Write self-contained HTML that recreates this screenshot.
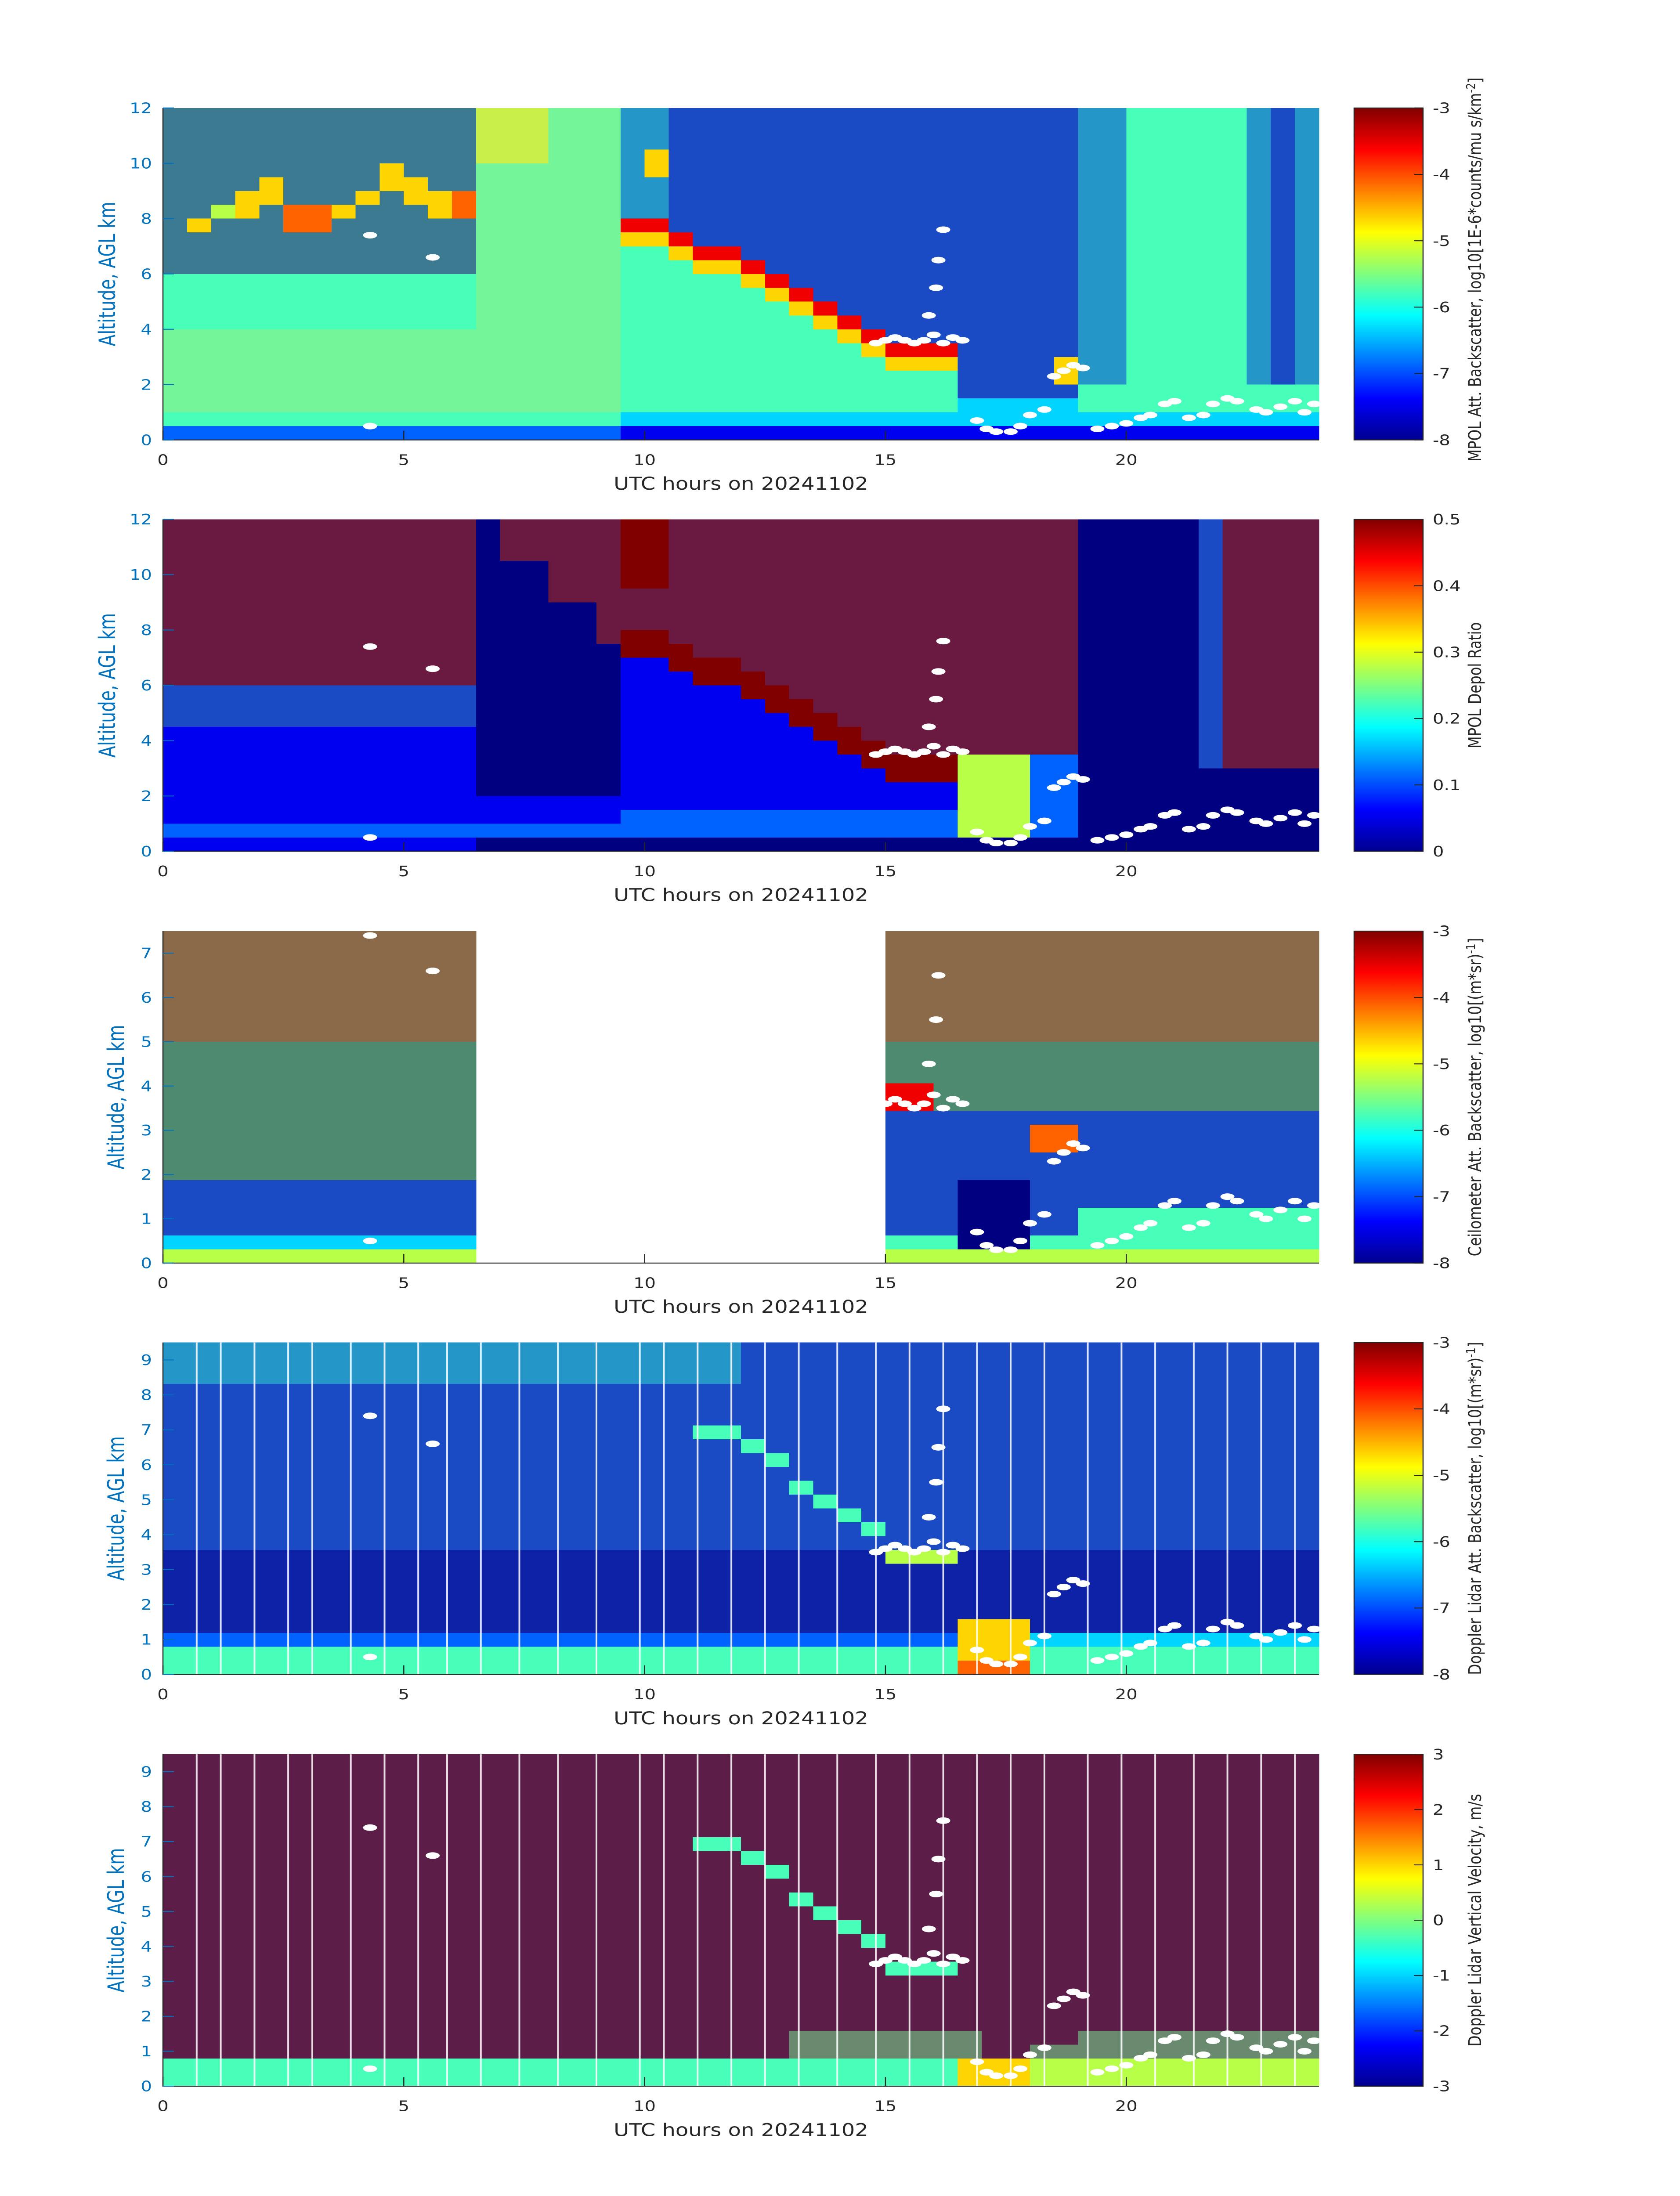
<!DOCTYPE html>
<html><head><meta charset="utf-8"><title>Lidar time-height panels 20241102</title>
<style>
html,body{margin:0;padding:0;background:#fff;width:100%;height:100%;overflow:hidden;}
svg{display:block;width:100vw;height:100vh;}
text{font-family:"DejaVu Sans","Liberation Sans",sans-serif;}
</style></head>
<body>
<svg id="fig" xmlns="http://www.w3.org/2000/svg" viewBox="0 0 3825 6000" preserveAspectRatio="none">
<defs>
<linearGradient id="jetGrad" x1="0" y1="1" x2="0" y2="0">
<stop offset="0" stop-color="#00008f"/><stop offset="0.125" stop-color="#0000ff"/>
<stop offset="0.375" stop-color="#00ffff"/><stop offset="0.625" stop-color="#ffff00"/>
<stop offset="0.875" stop-color="#ff0000"/><stop offset="1" stop-color="#800000"/>
</linearGradient>
</defs>
<rect width="3825" height="6000" fill="#fff"/>
<g id="plots"></g>
</svg>
<script>
// ---- data ----
const xTicks = [0, 5, 10, 15, 20];
const xMax = 24;
const panelYMax = [12, 12, 7.5, 9.5, 9.5];
const panelYTicks = [[0,2,4,6,8,10,12],[0,2,4,6,8,10,12],[0,1,2,3,4,5,6,7],[0,1,2,3,4,5,6,7,8,9],[0,1,2,3,4,5,6,7,8,9]];
const cbTicks1 = ["-3","-4","-5","-6","-7","-8"];
const cbTicks2 = ["0.5","0.4","0.3","0.2","0.1","0"];
const cbTicks3 = ["-3","-4","-5","-6","-7","-8"];
const cbTicks4 = ["-3","-4","-5","-6","-7","-8"];
const cbTicks5 = ["3","2","1","0","-1","-2","-3"];
const colHours = [0,0.5,1,1.5,2,2.5,3,3.5,4,4.5,5,5.5,6,6.5,7,7.5,8,8.5,9,9.5,10,10.5,11,11.5,12,12.5,13,13.5,14,14.5,15,15.5,16,16.5,17,17.5,18,18.5,19,19.5,20,20.5,21,21.5,22,22.5,23,23.5];
const cbTime = [4.3,5.6,4.3,14.8,15.0,15.2,15.4,15.6,15.8,16.0,16.2,16.4,16.6,16.2,16.1,16.05,15.9,16.9,17.1,17.3,17.6,17.8,18.0,18.3,18.5,18.7,18.9,19.1,19.4,19.7,20.0,20.3,20.5,20.8,21.0,21.3,21.6,21.8,22.1,22.3,22.7,22.9,23.2,23.5,23.7,23.9];
const cbAlt  = [7.4,6.6,0.5,3.5,3.6,3.7,3.6,3.5,3.6,3.8,3.5,3.7,3.6,7.6,6.5,5.5,4.5,0.7,0.4,0.3,0.3,0.5,0.9,1.1,2.3,2.5,2.7,2.6,0.4,0.5,0.6,0.8,0.9,1.3,1.4,0.8,0.9,1.3,1.5,1.4,1.1,1.0,1.2,1.4,1.0,1.3];
const gapTimes = [0.7,1.2,1.9,2.6,3.1,3.9,4.6,5.3,5.9,6.6,7.4,8.2,9.0,9.9,10.4,11.1,11.8,12.5,13.2,14.0,14.8,15.5,16.2,16.9,17.6,18.3,19.2,19.9,20.6,21.4,22.1,22.8,23.5];

const p1 = [
"ggggggggggggg"+"YYYGGG"+"ssbbbbbbbbbbbb"+"bbbbb"+"ss44444sbs",
"ggggggggggggg"+"YYYGGG"+"ssbbbbbbbbbbbb"+"bbbbb"+"ss44444sbs",
"ggggggggggggg"+"YYYGGG"+"ssbbbbbbbbbbbb"+"bbbbb"+"ss44444sbs",
"ggggggggggggg"+"YYYGGG"+"s6bbbbbbbbbbbb"+"bbbbb"+"ss44444sbs",
"ggggggggg6ggg"+"GGGGGG"+"s6bbbbbbbbbbbb"+"bbbbb"+"ss44444sbs",
"gggg6gggg66gg"+"GGGGGG"+"ssbbbbbbbbbbbb"+"bbbbb"+"ss44444sbs",
"ggg66ggg6g667"+"GGGGGG"+"ssbbbbbbbbbbbb"+"bbbbb"+"ss44444sbs",
"gg56g776ggg67"+"GGGGGG"+"ssbbbbbbbbbbbb"+"bbbbb"+"ss44444sbs",
"g6ggg77gggggg"+"GGGGGG"+"88bbbbbbbbbbbb"+"bbbbb"+"ss44444sbs",
"ggggggggggggg"+"GGGGGG"+"668bbbbbbbbbbb"+"bbbbb"+"ss44444sbs",
"ggggggggggggg"+"GGGGGG"+"44688bbbbbbbbb"+"bbbbb"+"ss44444sbs",
"ggggggggggggg"+"GGGGGG"+"444668bbbbbbbb"+"bbbbb"+"ss44444sbs",
"4444444444444"+"GGGGGG"+"4444468bbbbbbb"+"bbbbb"+"ss44444sbs",
"4444444444444"+"GGGGGG"+"44444468bbbbbb"+"bbbbb"+"ss44444sbs",
"4444444444444"+"GGGGGG"+"444444468bbbbb"+"bbbbb"+"ss44444sbs",
"4444444444444"+"GGGGGG"+"4444444468bbbb"+"bbbbb"+"ss44444sbs",
"GGGGGGGGGGGGG"+"GGGGGG"+"44444444468bbb"+"bbbbb"+"ss44444sbs",
"GGGGGGGGGGGGG"+"GGGGGG"+"44444444446888"+"bbbbb"+"ss44444sbs",
"GGGGGGGGGGGGG"+"GGGGGG"+"44444444444666"+"bbbb6"+"ss44444sbs",
"GGGGGGGGGGGGG"+"GGGGGG"+"44444444444444"+"bbbb6"+"ss44444sbs",
"GGGGGGGGGGGGG"+"GGGGGG"+"44444444444444"+"bbbbb"+"4444444444",
"GGGGGGGGGGGGG"+"GGGGGG"+"44444444444444"+"33333"+"4444444444",
"4444444444444"+"444444"+"33333333333333"+"33333"+"3333333333",
"2222222222222"+"222222"+"11111111111111"+"11111"+"1111111111"
];
const p2 = [
"rrrrrrrrrrrrr"+"0rrrrr"+"99rrrrrrrrrrrr"+"rrrrr"+"00000brrrr",
"rrrrrrrrrrrrr"+"0rrrrr"+"99rrrrrrrrrrrr"+"rrrrr"+"00000brrrr",
"rrrrrrrrrrrrr"+"0rrrrr"+"99rrrrrrrrrrrr"+"rrrrr"+"00000brrrr",
"rrrrrrrrrrrrr"+"000rrr"+"99rrrrrrrrrrrr"+"rrrrr"+"00000brrrr",
"rrrrrrrrrrrrr"+"000rrr"+"99rrrrrrrrrrrr"+"rrrrr"+"00000brrrr",
"rrrrrrrrrrrrr"+"000rrr"+"rrrrrrrrrrrrrr"+"rrrrr"+"00000brrrr",
"rrrrrrrrrrrrr"+"00000r"+"rrrrrrrrrrrrrr"+"rrrrr"+"00000brrrr",
"rrrrrrrrrrrrr"+"00000r"+"rrrrrrrrrrrrrr"+"rrrrr"+"00000brrrr",
"rrrrrrrrrrrrr"+"00000r"+"99rrrrrrrrrrrr"+"rrrrr"+"00000brrrr",
"rrrrrrrrrrrrr"+"000000"+"999rrrrrrrrrrr"+"rrrrr"+"00000brrrr",
"rrrrrrrrrrrrr"+"000000"+"11999rrrrrrrrr"+"rrrrr"+"00000brrrr",
"rrrrrrrrrrrrr"+"000000"+"111999rrrrrrrr"+"rrrrr"+"00000brrrr",
"bbbbbbbbbbbbb"+"000000"+"1111199rrrrrrr"+"rrrrr"+"00000brrrr",
"bbbbbbbbbbbbb"+"000000"+"11111199rrrrrr"+"rrrrr"+"00000brrrr",
"bbbbbbbbbbbbb"+"000000"+"111111199rrrrr"+"rrrrr"+"00000brrrr",
"1111111111111"+"000000"+"1111111199rrrr"+"rrrrr"+"00000brrrr",
"1111111111111"+"000000"+"11111111199rrr"+"rrrrr"+"00000brrrr",
"1111111111111"+"000000"+"11111111119999"+"55522"+"00000brrrr",
"1111111111111"+"000000"+"11111111111999"+"55522"+"0000000000",
"1111111111111"+"000000"+"11111111111111"+"55522"+"0000000000",
"1111111111111"+"111111"+"11111111111111"+"55522"+"0000000000",
"1111111111111"+"111111"+"22222222222222"+"55522"+"0000000000",
"2222222222222"+"222222"+"22222222222222"+"55522"+"0000000000",
"1111111111111"+"000000"+"00000000000000"+"00000"+"0000000000"
];
const p3 = [
"ooooooooooooo"+"................."+"oooooooooooooooooo",
"ooooooooooooo"+"................."+"oooooooooooooooooo",
"ooooooooooooo"+"................."+"oooooooooooooooooo",
"ooooooooooooo"+"................."+"oooooooooooooooooo",
"ooooooooooooo"+"................."+"oooooooooooooooooo",
"ooooooooooooo"+"................."+"oooooooooooooooooo",
"ooooooooooooo"+"................."+"oooooooooooooooooo",
"ooooooooooooo"+"................."+"oooooooooooooooooo",
"mmmmmmmmmmmmm"+"................."+"mmmmmmmmmmmmmmmmmm",
"mmmmmmmmmmmmm"+"................."+"mmmmmmmmmmmmmmmmmm",
"mmmmmmmmmmmmm"+"................."+"mmmmmmmmmmmmmmmmmm",
"mmmmmmmmmmmmm"+"................."+"88mmmmmmmmmmmmmmmm",
"mmmmmmmmmmmmm"+"................."+"88mmmmmmmmmmmmmmmm",
"mmmmmmmmmmmmm"+"................."+"bbbbbbbbbbbbbbbbbb",
"mmmmmmmmmmmmm"+"................."+"bbbbbb77bbbbbbbbbb",
"mmmmmmmmmmmmm"+"................."+"bbbbbb77bbbbbbbbbb",
"mmmmmmmmmmmmm"+"................."+"bbbbbbbbbbbbbbbbbb",
"mmmmmmmmmmmmm"+"................."+"bbbbbbbbbbbbbbbbbb",
"bbbbbbbbbbbbb"+"................."+"bbb000bbbbbbbbbbbb",
"bbbbbbbbbbbbb"+"................."+"bbb000bbbbbbbbbbbb",
"bbbbbbbbbbbbb"+"................."+"bbb000bb4444444444",
"bbbbbbbbbbbbb"+"................."+"bbb000bb4444444444",
"3333333333333"+"................."+"444000444444444444",
"5555555555555"+"................."+"555555555555555555"
];
const p4 = [
"ssssssssssssssssssssssss"+"bbbbbbbbbbbbbbbbbbbbbbbb",
"ssssssssssssssssssssssss"+"bbbbbbbbbbbbbbbbbbbbbbbb",
"ssssssssssssssssssssssss"+"bbbbbbbbbbbbbbbbbbbbbbbb",
"bbbbbbbbbbbbbbbbbbbbbbbb"+"bbbbbbbbbbbbbbbbbbbbbbbb",
"bbbbbbbbbbbbbbbbbbbbbbbb"+"bbbbbbbbbbbbbbbbbbbbbbbb",
"bbbbbbbbbbbbbbbbbbbbbbbb"+"bbbbbbbbbbbbbbbbbbbbbbbb",
"bbbbbbbbbbbbbbbbbbbbbb44"+"bbbbbbbbbbbbbbbbbbbbbbbb",
"bbbbbbbbbbbbbbbbbbbbbbbb"+"4bbbbbbbbbbbbbbbbbbbbbbb",
"bbbbbbbbbbbbbbbbbbbbbbbb"+"b4bbbbbbbbbbbbbbbbbbbbbb",
"bbbbbbbbbbbbbbbbbbbbbbbb"+"bbbbbbbbbbbbbbbbbbbbbbbb",
"bbbbbbbbbbbbbbbbbbbbbbbb"+"bb4bbbbbbbbbbbbbbbbbbbbb",
"bbbbbbbbbbbbbbbbbbbbbbbb"+"bbb4bbbbbbbbbbbbbbbbbbbb",
"bbbbbbbbbbbbbbbbbbbbbbbb"+"bbbb4bbbbbbbbbbbbbbbbbbb",
"bbbbbbbbbbbbbbbbbbbbbbbb"+"bbbbb4bbbbbbbbbbbbbbbbbb",
"bbbbbbbbbbbbbbbbbbbbbbbb"+"bbbbbbbbbbbbbbbbbbbbbbbb",
"nnnnnnnnnnnnnnnnnnnnnnnn"+"nnnnnn555nnnnnnnnnnnnnnn",
"nnnnnnnnnnnnnnnnnnnnnnnn"+"nnnnnnnnnnnnnnnnnnnnnnnn",
"nnnnnnnnnnnnnnnnnnnnnnnn"+"nnnnnnnnnnnnnnnnnnnnnnnn",
"nnnnnnnnnnnnnnnnnnnnnnnn"+"nnnnnnnnnnnnnnnnnnnnnnnn",
"nnnnnnnnnnnnnnnnnnnnnnnn"+"nnnnnnnnnnnnnnnnnnnnnnnn",
"nnnnnnnnnnnnnnnnnnnnnnnn"+"nnnnnnnnn666nnnnnnnnnnnn",
"222222222222222222222222"+"222222222666333333333333",
"444444444444444444444444"+"444444444666444444444444",
"444444444444444444444444"+"444444444777444444444444"
];
const p5 = [
"vvvvvvvvvvvvvvvvvvvvvvvv"+"vvvvvvvvvvvvvvvvvvvvvvvv",
"vvvvvvvvvvvvvvvvvvvvvvvv"+"vvvvvvvvvvvvvvvvvvvvvvvv",
"vvvvvvvvvvvvvvvvvvvvvvvv"+"vvvvvvvvvvvvvvvvvvvvvvvv",
"vvvvvvvvvvvvvvvvvvvvvvvv"+"vvvvvvvvvvvvvvvvvvvvvvvv",
"vvvvvvvvvvvvvvvvvvvvvvvv"+"vvvvvvvvvvvvvvvvvvvvvvvv",
"vvvvvvvvvvvvvvvvvvvvvvvv"+"vvvvvvvvvvvvvvvvvvvvvvvv",
"vvvvvvvvvvvvvvvvvvvvvv44"+"vvvvvvvvvvvvvvvvvvvvvvvv",
"vvvvvvvvvvvvvvvvvvvvvvvv"+"4vvvvvvvvvvvvvvvvvvvvvvv",
"vvvvvvvvvvvvvvvvvvvvvvvv"+"v4vvvvvvvvvvvvvvvvvvvvvv",
"vvvvvvvvvvvvvvvvvvvvvvvv"+"vvvvvvvvvvvvvvvvvvvvvvvv",
"vvvvvvvvvvvvvvvvvvvvvvvv"+"vv4vvvvvvvvvvvvvvvvvvvvv",
"vvvvvvvvvvvvvvvvvvvvvvvv"+"vvv4vvvvvvvvvvvvvvvvvvvv",
"vvvvvvvvvvvvvvvvvvvvvvvv"+"vvvv4vvvvvvvvvvvvvvvvvvv",
"vvvvvvvvvvvvvvvvvvvvvvvv"+"vvvvv4vvvvvvvvvvvvvvvvvv",
"vvvvvvvvvvvvvvvvvvvvvvvv"+"vvvvvvvvvvvvvvvvvvvvvvvv",
"vvvvvvvvvvvvvvvvvvvvvvvv"+"vvvvvv444vvvvvvvvvvvvvvv",
"vvvvvvvvvvvvvvvvvvvvvvvv"+"vvvvvvvvvvvvvvvvvvvvvvvv",
"vvvvvvvvvvvvvvvvvvvvvvvv"+"vvvvvvvvvvvvvvvvvvvvvvvv",
"vvvvvvvvvvvvvvvvvvvvvvvv"+"vvvvvvvvvvvvvvvvvvvvvvvv",
"vvvvvvvvvvvvvvvvvvvvvvvv"+"vvvvvvvvvvvvvvvvvvvvvvvv",
"vvvvvvvvvvvvvvvvvvvvvvvv"+"vvttttttttvvvvtttttttttt",
"vvvvvvvvvvvvvvvvvvvvvvvv"+"vvttttttttvvtttttttttttt",
"444444444444444444444444"+"444444444666555555555555",
"444444444444444444444444"+"444444444666555555555555"
];

// ---- layout / styling ----
const NS = "http://www.w3.org/2000/svg";
const plotX0 = 371, plotX1 = 3003;
const panelTop = [295, 1419, 2544, 3668, 4793];
const panelH = 907;
const cbX0 = 3083, cbW = 157;
const grids = [p1, p2, p3, p4, p5];
const cbTickSets = [cbTicks1, cbTicks2, cbTicks3, cbTicks4, cbTicks5];
const cbLabels = [
  ["MPOL Att. Backscatter, log10[1E-6*counts/mu s/km", "-2", "]"],
  ["MPOL Depol Ratio"],
  ["Ceilometer Att. Backscatter, log10[(m*sr)", "-1", "]"],
  ["Doppler Lidar Att. Backscatter, log10[(m*sr)", "-1", "]"],
  ["Doppler Lidar Vertical Velocity, m/s"]
];
const cbLabelLen = [1050, 345, 870, 910, 690];
const panelNames = ["mpol-backscatter","mpol-depol","ceilometer-backscatter","doppler-backscatter","doppler-velocity"];
const mixColors = {g:"#3b7a90", s:"#2596c8", b:"#1a4ac4", r:"#6a1a40", o:"#8a6a48", m:"#4e8a70", n:"#0e22a8", v:"#5c1e48", G:"#74f59a", Y:"#c8f048", t:"#6a8a70"};

function jet(v){
  const c = x => Math.max(0, Math.min(1, x));
  const r = c(1.5 - Math.abs(4*v - 3)), g = c(1.5 - Math.abs(4*v - 2)), b = c(1.5 - Math.abs(4*v - 1));
  return "rgb(" + Math.round(r*255) + "," + Math.round(g*255) + "," + Math.round(b*255) + ")";
}
function colorOf(ch){
  if (ch === ".") return null;
  if (mixColors[ch]) return mixColors[ch];
  return jet(parseInt(ch, 10) / 9);
}
const xScale = t => plotX0 + (t / xMax) * (plotX1 - plotX0);

const root = document.getElementById("plots");
function el(tag, attrs, parent){
  const e = document.createElementNS(NS, tag);
  for (const k in attrs) e.setAttribute(k, attrs[k]);
  (parent || root).appendChild(e);
  return e;
}

for (let p = 0; p < 5; p++) {
  const top = panelTop[p], bot = top + panelH, ymax = panelYMax[p];
  const yScale = a => bot - (a / ymax) * panelH;
  const g = el("g", {});
  
  

  const hm = el("g", {"shape-rendering":"crispEdges"}, g);
  
  
  const grid = grids[p], nRows = grid.length, dA = ymax / nRows;
  for (let r = 0; r < nRows; r++) {
    const row = grid[r];
    const aTop = ymax - r * dA, aBot = aTop - dA;
    for (let c = 0; c < colHours.length; c++) {
      const col = colorOf(row[c]);
      if (!col) continue;
      const x0 = xScale(colHours[c]), x1 = xScale(colHours[c] + 0.5);
      const y0 = yScale(aTop), y1 = yScale(aBot);
      const rc = el("rect", {x:x0.toFixed(1), y:y0.toFixed(1), width:(x1-x0+0.6).toFixed(1), height:(y1-y0+0.6).toFixed(1), fill:col}, hm);
      
      
    }
  }
  if (p >= 3) {
    for (const t of gapTimes) {
      const ln = el("rect", {x:(xScale(t)-2).toFixed(1), y:top, width:4, height:panelH, fill:"#ffffff", opacity:"0.85"}, g);
      
      
    }
  }
  for (let i = 0; i < cbTime.length; i++) {
    if (cbAlt[i] > ymax) continue;
    if (p === 2 && cbTime[i] > 6.2 && cbTime[i] < 14.85) continue;
    const ci = el("ellipse", {cx:xScale(cbTime[i]).toFixed(1), cy:yScale(cbAlt[i]).toFixed(1), rx:16, ry:9, fill:"#ffffff"}, g);
    
    
  }
  const ax = el("path", {d:"M"+plotX0+","+top+" V"+bot+" H"+plotX1, stroke:"#262626", "stroke-width":2.5, fill:"none"}, g);
  
  
  for (const t of xTicks) {
    const x = xScale(t);
    const tk = el("line", {x1:x, x2:x, y1:bot, y2:bot-25, stroke:"#262626", "stroke-width":2.5}, g);
    
    
    const tl = el("text", {x:x, y:bot+68, "font-size":40, fill:"#262626", "text-anchor":"middle"}, g);
    tl.textContent = String(t);
    
    
  }
  const xl = el("text", {x:1687, y:bot+136, "font-size":48, fill:"#262626", "text-anchor":"middle"}, g);
  xl.textContent = "UTC hours on 20241102";
  
  
  for (const a of panelYTicks[p]) {
    const y = yScale(a);
    const tk = el("line", {x1:plotX0, x2:plotX0+25, y1:y, y2:y, stroke:"#0072BD", "stroke-width":2.5}, g);
    
    
    const tl = el("text", {x:346, y:y+14, "font-size":40, fill:"#0072BD", "text-anchor":"end"}, g);
    tl.textContent = String(a);
    
    
  }
  const ylx = p < 2 ? 262 : 282, yc = top + panelH/2;
  const yl = el("text", {x:0, y:0, "font-size":52, fill:"#0072BD", "text-anchor":"middle", textLength:395, lengthAdjust:"spacingAndGlyphs", transform:"translate("+ylx+","+yc+") rotate(-90)"}, g);
  yl.textContent = "Altitude, AGL km";
  
  
  const cb = el("rect", {x:cbX0, y:top, width:cbW, height:panelH, fill:"url(#jetGrad)", stroke:"#262626", "stroke-width":2.5}, g);
  
  
  const ticks = cbTickSets[p], n = ticks.length;
  for (let i = 0; i < n; i++) {
    const y = top + i * panelH / (n - 1);
    const tk = el("line", {x1:cbX0+cbW, x2:cbX0+cbW-20, y1:y, y2:y, stroke:"#262626", "stroke-width":2.5}, g);
    
    
    const tl = el("text", {x:3262, y:y+14, "font-size":40, fill:"#262626"}, g);
    tl.textContent = ticks[i];
    
    
  }
  const lab = cbLabels[p];
  const ct = el("text", {x:0, y:0, "font-size":40, fill:"#262626", "text-anchor":"middle", textLength:cbLabelLen[p], lengthAdjust:"spacingAndGlyphs", transform:"translate(3372,"+(top+panelH/2 - (p===0?12:0))+") rotate(-90)"}, g);
  
  
  const s1 = el("tspan", {}, ct); s1.textContent = lab[0];
  if (lab.length > 1) {
    const s2 = el("tspan", {dy:-14, "font-size":28}, ct); s2.textContent = lab[1];
    const s3 = el("tspan", {dy:14}, ct); s3.textContent = lab[2];
  }
}
</script>
</body></html>
